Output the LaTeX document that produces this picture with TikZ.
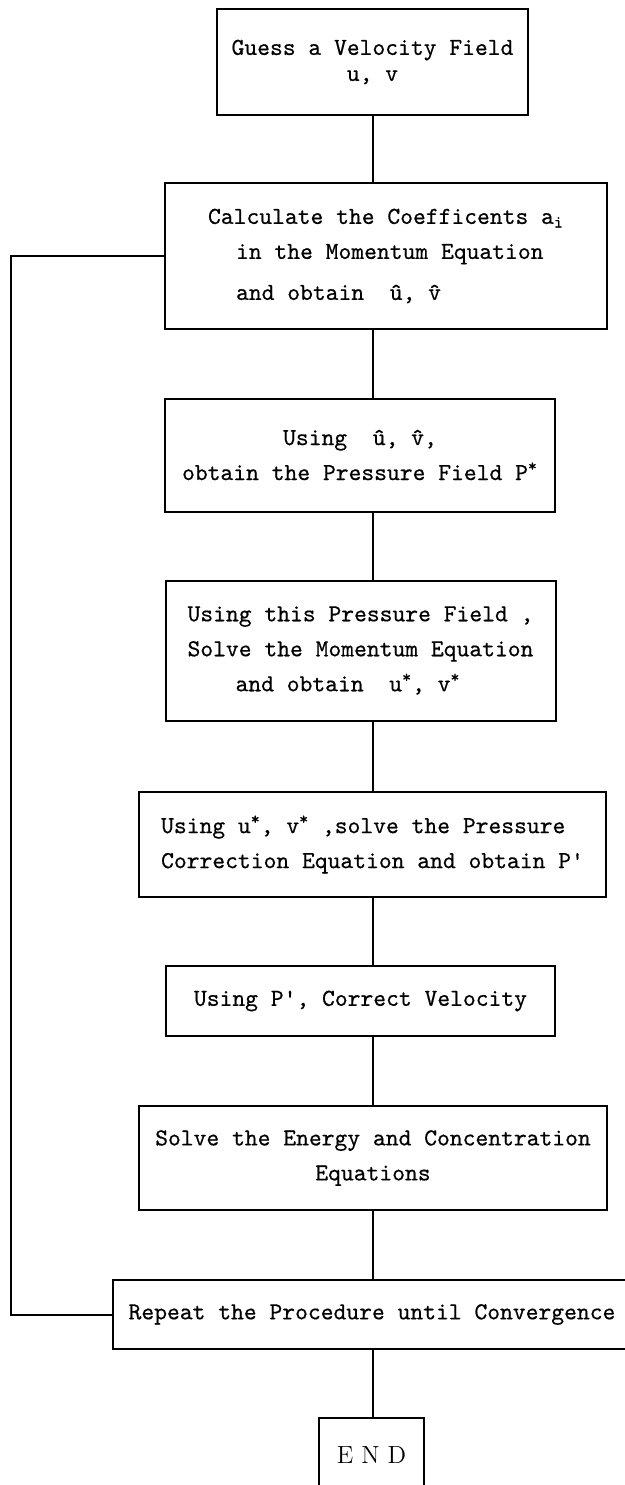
\documentclass[tikz,border=0pt]{standalone}
\usepackage{fontspec}
\setmonofont{lmmono10-regular.otf}[FakeBold=0.5]
\usepackage{tikz}

\begin{document}
\begin{tikzpicture}[
    x=0.5pt, y=-0.5pt,
    stage/.style={rectangle, draw, line width=1pt, inner sep=0pt, font=\ttfamily\fontsize{12.2}{17.5}\selectfont},
    link/.style={line width=1pt}
]
    \clip (0,0) rectangle (625,1485);

    % Start
    \node[stage, minimum width=155.5pt, minimum height=53pt, align=center, font=\ttfamily\fontsize{12.2}{13}\selectfont] (guess) at (372.5,62) {Guess a Velocity Field\\u, v};

    % Momentum step
    \node[stage, minimum width=221pt, minimum height=73pt, align=left] (coeff) at (386,256) {Calculate the Coefficents a\textsubscript{i}\\\hspace*{14pt}in the Momentum Equation\\[3pt]\hspace*{14pt}and obtain \ \^u, \^v};
    \node[stage, minimum width=195pt, minimum height=56.5pt, align=center] (press) at (360,455) {Using \ \^u, \^v,\\obtain the Pressure Field P\textsuperscript{*}};
    \node[stage, minimum width=195pt, minimum height=70pt, align=left] (mom) at (360.5,650.5) {Using this Pressure Field ,\\Solve the Momentum Equation\\\hspace*{24pt}and obtain \ u\textsuperscript{*}, v\textsuperscript{*}};

    % Correction step
    \node[stage, minimum width=233.5pt, minimum height=52.5pt, align=left] (pcorr) at (372.5,844.5) {Using u\textsuperscript{*}, v\textsuperscript{*} ,solve the Pressure\\Correction Equation and obtain P'};
    \node[stage, minimum width=194.5pt, minimum height=35pt] (velo) at (360.5,1001) {Using P', Correct Velocity};
    \node[stage, minimum width=234pt, minimum height=52pt, align=center] (energy) at (373,1158) {Solve the Energy and Concentration\\Equations};

    % Loop and end
    \node[stage, minimum width=259pt, minimum height=34.5pt] (repeat) at (372,1314.5) {Repeat the Procedure until Convergence};
    \node[stage, minimum width=52.5pt, minimum height=37pt, font=\rmfamily\fontsize{12.4}{14}\selectfont] (finish) at (371.5,1455) {E N D};
    \coordinate (back) at (11,0);

    % Connectors
    \draw[link] (guess.south) -- (guess.south |- coeff.north);
    \draw[link] (coeff.south -| guess) -- (press.north -| guess);
    \draw[link] (press.south -| guess) -- (mom.north -| guess);
    \draw[link] (mom.south -| guess) -- (pcorr.north -| guess);
    \draw[link] (pcorr.south -| guess) -- (velo.north -| guess);
    \draw[link] (velo.south -| guess) -- (energy.north -| guess);
    \draw[link] (energy.south -| guess) -- (repeat.north -| guess);
    \draw[link] (repeat.south -| guess) -- (finish.north -| guess);
    \draw[link] (repeat.west) -- (repeat.west -| back) -- (coeff.west -| back) -- (coeff.west);
\end{tikzpicture}
\end{document}
